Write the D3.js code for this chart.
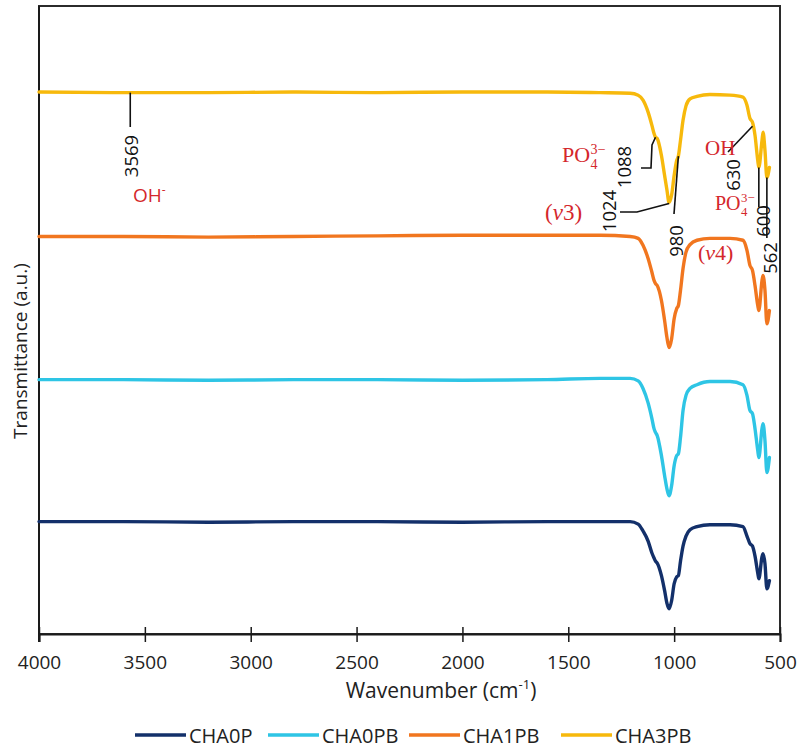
<!DOCTYPE html>
<html>
<head>
<meta charset="utf-8">
<script src="https://cdn.jsdelivr.net/npm/d3@7"></script>
<style>
  html, body { margin: 0; padding: 0; background: #fff; }
  svg { display: block; }
</style>
</head>
<body>
<svg id="chart" width="802" height="747"></svg>
<script>
// FTIR spectra, stacked with vertical offsets (arbitrary units)
const wavenumbers = [4000, 3600, 3200, 2800, 2400, 2000, 1600, 1350, 1208, 1170, 1147, 1123, 1105, 1095, 1088, 1080,
  1060, 1045, 1034, 1024, 1012, 1000, 988, 980, 970, 958, 944, 925, 892, 831, 736, 675, 656, 642, 630, 618, 605,
  600, 585, 580, 571, 562, 550];

const cha0p = [17.9, 17.9, 17.8, 17.9, 17.9, 17.8, 17.9, 17.9, 17.9, 17.5, 16.4, 14.8, 12.9, 12.1, 11.6, 11.3,
  9.3, 6.9, 4.9, 4.0, 5.3, 8.0, 9.1, 9.3, 11.6, 14.0, 15.6, 16.6, 17.1, 17.4, 17.4, 17.1, 15.6, 14.4, 14.0, 12.4, 9.7,
  8.8, 12.3, 12.8, 11.2, 7.2, 8.5];

const cha0pb = [40.5, 40.5, 40.4, 40.5, 40.5, 40.4, 40.5, 40.7, 40.7, 40.3, 39.1, 36.8, 34.3, 32.7, 32.1, 31.6,
  28.4, 25.2, 23.1, 22.0, 23.6, 26.8, 28.4, 28.7, 31.3, 35.6, 38.0, 39.1, 39.7, 40.2, 40.2, 39.7, 38.0, 35.6, 35.1, 32.7, 29.2,
  28.1, 32.7, 33.5, 30.8, 25.7, 28.1];

const cha1pb = [63.3, 63.3, 63.2, 63.3, 63.4, 63.5, 63.5, 63.5, 63.3, 63.0, 61.9, 59.8, 57.6, 56.3, 55.8, 55.5,
  53.1, 49.9, 47.2, 45.6, 47.0, 50.2, 51.8, 52.3, 54.7, 58.2, 60.8, 62.0, 62.7, 63.0, 63.0, 62.7, 61.1, 58.7, 57.9, 55.5, 52.3,
  51.5, 56.3, 57.1, 54.7, 49.4, 51.5];

const cha3pb = [86.3, 86.2, 86.2, 86.3, 86.2, 86.3, 86.3, 86.2, 86.1, 85.8, 85.0, 83.1, 81.0, 79.7, 79.1, 78.9,
  76.2, 73.0, 70.7, 68.7, 69.9, 73.0, 75.4, 76.1, 78.6, 81.8, 84.1, 85.2, 85.6, 85.9, 85.8, 85.5, 84.2, 82.1, 81.5, 79.4, 75.4,
  74.3, 78.6, 79.9, 77.0, 72.7, 74.3];

const seriesNames = ["CHA0P", "CHA0PB", "CHA1PB", "CHA3PB"];
const seriesColors = ["#13306a", "#2ec5e5", "#f1761f", "#f7b90c"];
const seriesValues = [cha0p, cha0pb, cha1pb, cha3pb];

const xTicks = [4000, 3500, 3000, 2500, 2000, 1500, 1000, 500];

// band positions marked on the CHA3PB trace
const bandLabels = [3569, 1088, 1024, 980, 630, 600, 562];

const svg = d3.select("#chart");
const plotLeft = 39, plotRight = 780, plotTop = 6, plotBottom = 634;

const x = d3.scaleLinear().domain([4000, 500]).range([plotLeft, plotRight]);
const y = d3.scaleLinear().domain([0, 100]).range([plotBottom, plotTop]);

const font = "'Open Sans', 'Noto Sans', sans-serif";
const serif = "'Liberation Serif', 'DejaVu Serif', serif";
const red = "#d4272c";

// frame
svg.append("rect")
  .attr("x", plotLeft).attr("y", plotTop)
  .attr("width", plotRight - plotLeft).attr("height", plotBottom - plotTop)
  .attr("fill", "none").attr("stroke", "#2b2b2b").attr("stroke-width", 2);

// x axis with crossing ticks
const xAxis = svg.append("g").attr("transform", `translate(0,${plotBottom})`)
  .call(d3.axisBottom(x).tickValues(xTicks).tickSize(8).tickPadding(14).tickFormat(d3.format("d")));
xAxis.select(".domain").attr("stroke", "#1a1a1a").attr("stroke-width", 2);
xAxis.selectAll(".tick line").attr("stroke", "#1a1a1a").attr("stroke-width", 1.5).attr("y1", -7);
xAxis.selectAll(".tick text").attr("font-family", font).attr("font-size", 19).attr("fill", "#222");

// left axis line
svg.append("line").attr("x1", plotLeft).attr("x2", plotLeft).attr("y1", plotTop).attr("y2", plotBottom + 8)
  .attr("stroke", "#1a1a1a").attr("stroke-width", 2);

// axis titles
const xt = svg.append("text").attr("x", 441).attr("y", 698).attr("text-anchor", "middle")
  .attr("font-family", font).attr("font-size", 21).attr("fill", "#222");
xt.append("tspan").text("Wavenumber (cm");
xt.append("tspan").attr("font-size", 13).attr("dy", -9).text("-1");
xt.append("tspan").attr("dy", 9).text(")");

svg.append("text").attr("transform", "translate(27,351) rotate(-90)").attr("text-anchor", "middle")
  .attr("font-family", font).attr("font-size", 19).attr("fill", "#222")
  .text("Transmittance (a.u.)");

// spectra
const line = d3.line()
  .x((d, i) => x(wavenumbers[i]))
  .y(d => y(d))
  .curve(d3.curveMonotoneX);

seriesValues.forEach((vals, k) => {
  svg.append("path")
    .datum(vals)
    .attr("d", line)
    .attr("fill", "none")
    .attr("stroke", seriesColors[k])
    .attr("stroke-width", 3.4)
    .attr("stroke-linejoin", "round")
    .attr("stroke-linecap", "round");
});

// band annotations on CHA3PB
const valAt = wn => {
  const i = wavenumbers.indexOf(wn);
  return i >= 0 ? cha3pb[i] : cha3pb[1];
};
const leaders = {
  3569: [[x(3569), y(valAt(3569))], [x(3569), 127]],
  1088: [[641, 168], [651, 168], [652, 145], [x(1088), y(valAt(1088))]],
  1024: [[620, 212], [637, 212], [x(1024), y(valAt(1024)) + 1]],
  980:  [[x(980), y(valAt(980))], [674, 214]],
  630:  [[x(630), y(valAt(630)) + 4], [728, 152]],
  600:  [[x(600), y(valAt(600))], [x(600), 207]],
  562:  [[x(562), y(valAt(562))], [x(562), 238]]
};
const labelPos = {
  3569: [130, 156], 1088: [623, 167], 1024: [608, 211], 980: [675, 241],
  630: [732, 175], 600: [762, 221], 562: [769, 258]
};
const leaderLine = d3.line();
bandLabels.forEach(b => {
  svg.append("path").attr("d", leaderLine(leaders[b]))
    .attr("fill", "none").attr("stroke", "#111").attr("stroke-width", 1.6);
  const [lx, ly] = labelPos[b];
  svg.append("text").attr("transform", `translate(${lx},${ly}) rotate(-90)`)
    .attr("text-anchor", "middle").attr("dominant-baseline", "central")
    .attr("font-family", font).attr("font-size", 18.5).attr("fill", "#111")
    .text(b);
});

// group assignments (red)
const oh1 = svg.append("text").attr("x", 133).attr("y", 202)
  .attr("font-family", font).attr("font-size", 19).attr("fill", red);
oh1.append("tspan").text("OH");
oh1.append("tspan").attr("font-size", 12).attr("dy", -8).text("-");

function phosphate(px, py, size) {
  const t = svg.append("text").attr("x", px).attr("y", py)
    .attr("font-family", serif).attr("font-size", size).attr("fill", red);
  t.append("tspan").text("PO");
  const sx = px + size * 1.3;
  t.append("tspan").attr("x", sx).attr("dy", -size * 0.38).attr("font-size", size * 0.64).text("3−");
  t.append("tspan").attr("x", sx).attr("dy", size * 0.68).attr("font-size", size * 0.64).text("4");
}
phosphate(562, 162, 22);
phosphate(715, 210, 20);

function mode(px, py, size, n) {
  const t = svg.append("text").attr("x", px).attr("y", py)
    .attr("font-family", serif).attr("font-size", size).attr("fill", red);
  t.append("tspan").text("(");
  t.append("tspan").attr("font-style", "italic").text("v");
  t.append("tspan").text(n + ")");
}
mode(545, 220, 23, "3");
mode(698, 260, 22, "4");

svg.append("text").attr("x", 705).attr("y", 155)
  .attr("font-family", serif).attr("font-size", 21).attr("fill", red).text("OH");

// legend
const legendX = [135, 268, 409, 561];
seriesNames.forEach((name, k) => {
  const g = svg.append("g").attr("transform", `translate(${legendX[k]},735)`);
  g.append("line").attr("x1", 0).attr("x2", 51).attr("y1", 0).attr("y2", 0)
    .attr("stroke", seriesColors[k]).attr("stroke-width", 3.5);
  g.append("text").attr("x", 54).attr("y", 0).attr("dominant-baseline", "central")
    .attr("font-family", font).attr("font-size", 20).attr("fill", "#222").text(name);
});
</script>
</body>
</html>
